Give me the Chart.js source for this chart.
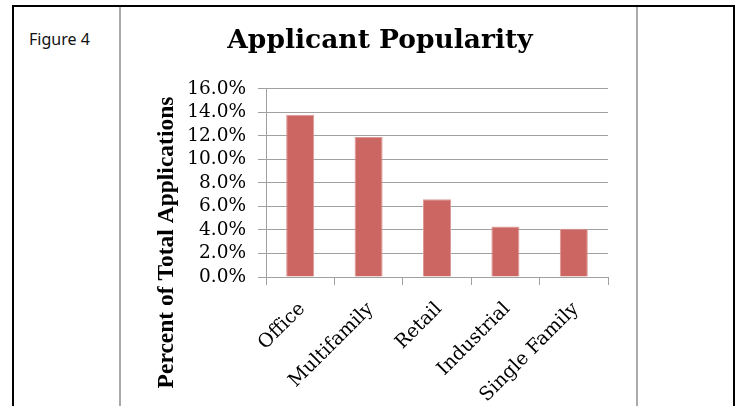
<!DOCTYPE html>
<html>
<head>
<meta charset="utf-8">
<script src="https://cdn.jsdelivr.net/npm/chart.js@4"></script>
<style>
  html, body { margin: 0; padding: 0; background: #fff; }
  body { width: 737px; height: 406px; position: relative; overflow: hidden; }
  .frame { position: absolute; left: 12px; top: 5px; width: 719px; height: 420px;
           border: 2px solid #000; border-bottom: none; box-sizing: content-box; }
  .vline { position: absolute; top: 7px; width: 2px; height: 410px; background: #aaaaaa; }
  .fig { position: absolute; left: 29px; top: 29px; font-family: "Noto Sans", sans-serif;
         font-size: 16px; color: #111; line-height: 20px; }
  #c { position: absolute; left: 121px; top: 0; }
</style>
</head>
<body>
<div class="frame"></div>
<div class="vline" style="left:119px"></div>
<div class="vline" style="left:636px"></div>
<div class="fig">Figure 4</div>
<canvas id="c" width="515" height="406"></canvas>
<script>
const categories = ["Office", "Multifamily", "Retail", "Industrial", "Single Family"];
const values = [13.8, 11.9, 6.6, 4.3, 4.1];
const yTicks = [0, 2, 4, 6, 8, 10, 12, 14, 16];
const chartTitle = "Applicant Popularity";
const yTitle = "Percent of Total Applications";

const yTitlePlugin = {
  id: 'yTitle',
  afterDraw(chart) {
    const ctx = chart.ctx;
    ctx.save();
    ctx.translate(46, 242.5);
    ctx.rotate(-Math.PI / 2);
    ctx.textAlign = 'center';
    ctx.textBaseline = 'middle';
    ctx.fillStyle = '#000';
    ctx.font = 'bold 23.5px "Liberation Serif"';
    ctx.fillText(yTitle, 0, 0);
    ctx.restore();
  }
};

const gridGray = '#a0a0a0';

new Chart(document.getElementById('c'), {
  type: 'bar',
  data: {
    labels: categories,
    datasets: [{
      data: values,
      backgroundColor: '#CC6662',
      borderColor: '#DC9A96',
      borderWidth: 1,
      categoryPercentage: 1,
      barPercentage: 0.41
    }]
  },
  options: {
    responsive: false,
    animation: false,
    devicePixelRatio: 1,
    layout: { padding: { left: 31, right: 28, top: 0, bottom: 0 } },
    plugins: {
      legend: { display: false },
      tooltip: { enabled: false },
      title: {
        display: true,
        text: chartTitle,
        color: '#000',
        font: { family: 'DejaVu Serif', size: 26.5, weight: 'bold', lineHeight: 1.2 },
        padding: { top: 25, bottom: 32 }
      }
    },
    scales: {
      x: {
        afterFit(s) { s.height = 129; },
        grid: { drawOnChartArea: false, drawTicks: true, tickLength: 8, color: gridGray, offset: true },
        border: { color: gridGray },
        ticks: {
          autoSkip: false, maxRotation: 45, minRotation: 45, padding: 13, labelOffset: 2,
          color: '#000', font: { family: 'DejaVu Serif', size: 19 }
        }
      },
      y: {
        min: 0, max: 16,
        afterFit(s) { s.width = 114; },
        afterBuildTicks(s) { s.ticks = yTicks.map(v => ({ value: v })); },
        grid: { color: gridGray, tickLength: 8, lineWidth: 1 },
        border: { color: gridGray },
        ticks: {
          autoSkip: false, padding: 12, color: '#000',
          font: { family: 'DejaVu Serif', size: 18.5 },
          callback: v => v.toFixed(1) + '%'
        }
      }
    }
  },
  plugins: [yTitlePlugin]
});
</script>
</body>
</html>
